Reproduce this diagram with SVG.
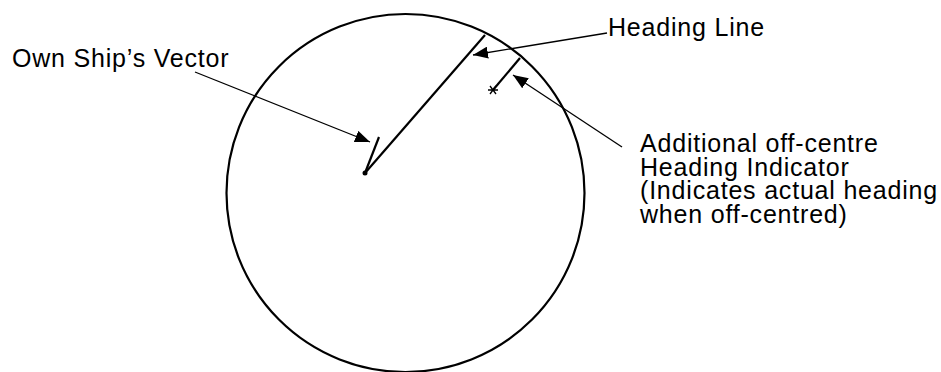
<svg xmlns="http://www.w3.org/2000/svg" width="941" height="372" viewBox="0 0 941 372">
<style>
text{font-family:"Liberation Sans",Arial,sans-serif;font-size:25px;letter-spacing:0.8px;fill:#000}
.thick{stroke:#000;stroke-width:2.2;fill:none}
.thin{stroke:#000;stroke-width:1.3;fill:none}
</style>
<defs>
<marker id="ah" markerWidth="16" markerHeight="12" refX="15" refY="6" orient="auto" markerUnits="userSpaceOnUse">
<path d="M0,0 L15,6 L0,12 Z" fill="#000"/>
</marker>
</defs>
<g id="display">
<circle cx="405.5" cy="193" r="179" class="thick"/>
</g>
<g id="heading-line">
<line x1="365" y1="173" x2="485" y2="35" class="thick"/>
</g>
<g id="own-ship-vector">
<line x1="365" y1="173" x2="379" y2="137" class="thick"/>
<circle cx="365" cy="173" r="2.5" fill="#000"/>
</g>
<g id="offcentre-indicator">
<line x1="493" y1="90" x2="520" y2="58" class="thick"/>
<path d="M488,90 H498 M490,86 L496,94 M496,86 L490,94" class="thin"/>
</g>
<g id="connectors">
<line x1="195" y1="72" x2="370" y2="142" class="thin" marker-end="url(#ah)"/>
<line x1="607" y1="33" x2="473" y2="55" class="thin" marker-end="url(#ah)"/>
<line x1="622" y1="147" x2="513" y2="75" class="thin" marker-end="url(#ah)"/>
</g>
<g id="labels">
<text x="12" y="67">Own Ship’s Vector</text>
<text x="608" y="36">Heading Line</text>
<text x="640" y="152">Additional off-centre</text>
<text x="640" y="175.5">Heading Indicator</text>
<text x="640" y="199">(Indicates actual heading</text>
<text x="640" y="222.5">when off-centred)</text>
</g>
</svg>
